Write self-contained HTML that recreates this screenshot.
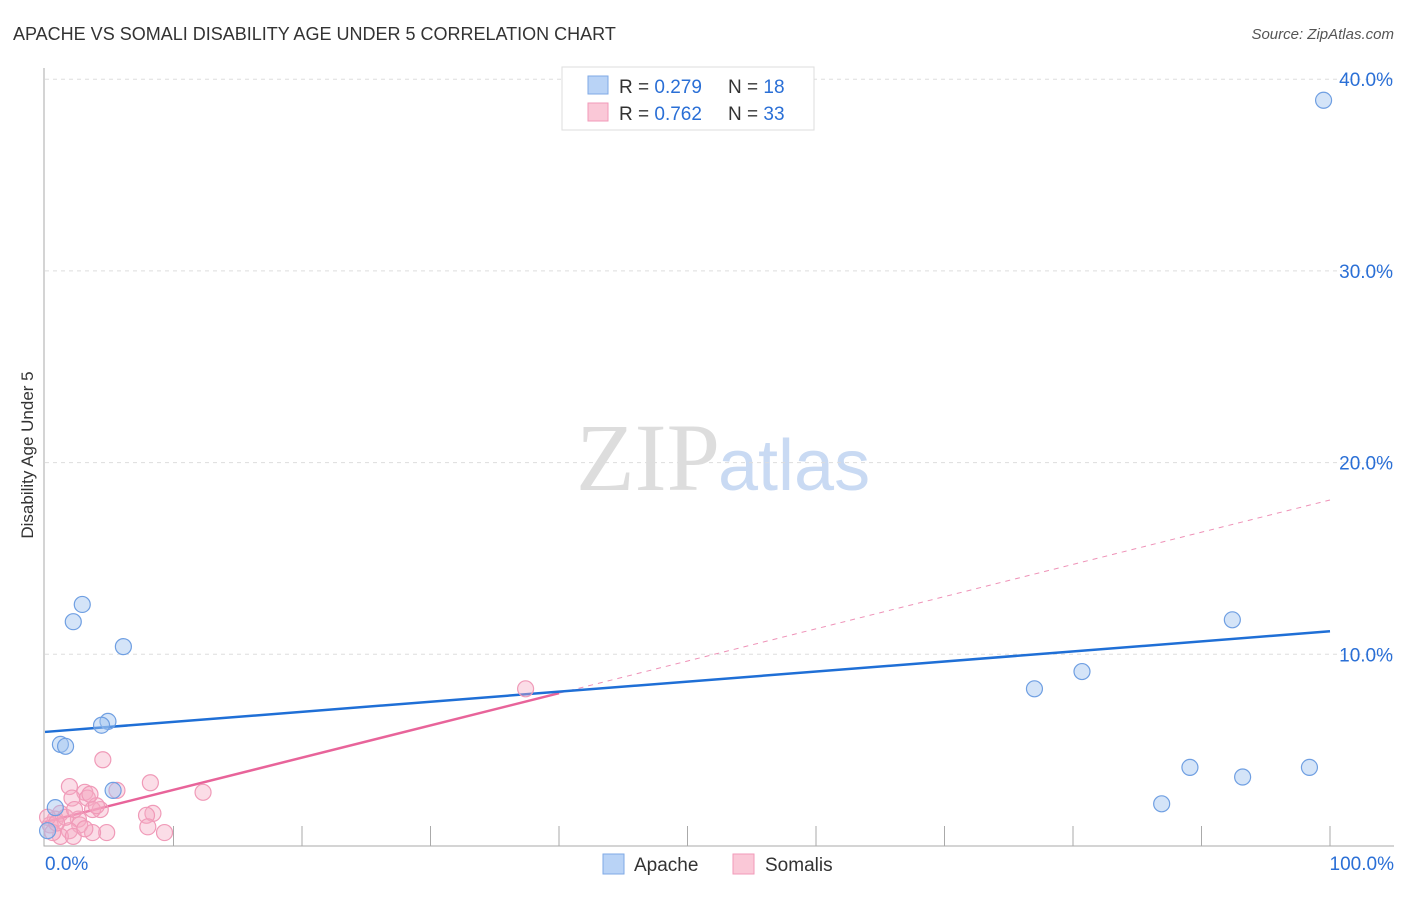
<!DOCTYPE html>
<html><head><meta charset="utf-8"><style>
body{margin:0;background:#fff;font-family:"Liberation Sans",sans-serif}
</style></head><body>
<svg id="c" width="1406" height="892" xmlns="http://www.w3.org/2000/svg" font-family="Liberation Sans, sans-serif">
<text x="13" y="40" font-size="18" fill="#333">APACHE VS SOMALI DISABILITY AGE UNDER 5 CORRELATION CHART</text>
<text x="1394" y="39" font-size="15" fill="#555" font-style="italic" text-anchor="end">Source: ZipAtlas.com</text>
<text x="720" y="490" font-size="96" fill="#ddd" text-anchor="end" font-family="Liberation Serif, serif">ZIP</text>
<text x="718" y="490" font-size="72" fill="#c9daf3">atlas</text>
<text transform="translate(33,455) rotate(-90)" font-size="17" fill="#333" text-anchor="middle">Disability Age Under 5</text>
<g id="grid"></g><g id="axes"></g><g id="lines"></g><g id="pts"></g>
<g>
<rect x="562" y="67" width="252" height="63" fill="#fff" stroke="#ddd"/>
<rect x="588" y="76" width="20" height="18" fill="#b9d3f6" stroke="#7fa9e6"/>
<rect x="588" y="103" width="20" height="18" fill="#fac8d7" stroke="#f29ab8"/>
<text x="619" y="93" font-size="19" fill="#333">R = <tspan fill="#2a6fd6">0.279</tspan></text>
<text x="728" y="93" font-size="19" fill="#333">N = <tspan fill="#2a6fd6"> 18</tspan></text>
<text x="619" y="120" font-size="19" fill="#333">R = <tspan fill="#2a6fd6">0.762</tspan></text>
<text x="728" y="120" font-size="19" fill="#333">N = <tspan fill="#2a6fd6">33</tspan></text>
</g>
<g>
<rect x="603" y="854" width="21" height="20" fill="#b9d3f6" stroke="#7fa9e6"/>
<text x="634" y="871" font-size="19" fill="#333">Apache</text>
<rect x="733" y="854" width="21" height="20" fill="#fac8d7" stroke="#f29ab8"/>
<text x="765" y="871" font-size="19" fill="#333">Somalis</text>
</g>
</svg>
<script>
const yTicks=[10,20,30,40];
const yTickLabels=["10.0%","20.0%","30.0%","40.0%"];
const xTickLabels=["0.0%","100.0%"];
const apacheX=[2.9,2.2,6.1,4.9,4.4,1.2,1.6,5.3,0.8,0.2,77.0,80.7,92.4,86.9,89.1,93.2,98.4,99.5];
const apacheY=[12.6,11.7,10.4,6.5,6.3,5.3,5.2,2.9,2.0,0.8,8.2,9.1,11.8,2.2,4.1,3.6,4.1,38.9];
const somaliX=[4.5,1.9,8.2,5.6,3.1,12.3,2.1,3.3,4.3,3.7,8.4,7.9,1.2,0.8,2.6,2.7,8.0,4.8,9.3,3.7,1.9,0.4,1.2,2.2,0.6,37.4,4.0,3.5,1.6,2.3,0.2,3.1,0.9];
const somaliY=[4.5,3.1,3.3,2.9,2.8,2.8,2.5,2.5,1.9,1.9,1.7,1.6,1.7,1.4,1.4,1.1,1.0,0.7,0.7,0.7,0.8,1.1,0.5,0.5,0.7,8.2,2.1,2.7,1.5,1.9,1.5,0.9,1.2];
const apacheTrend=[5.95,11.2];
const somaliTrend=[1.25,18.05];
const somaliSolidEnd=40;
const X=v=>45+v*12.85, Y=v=>846-v*19.17;
const NS="http://www.w3.org/2000/svg";
function mk(parent,tag,attrs){const e=document.createElementNS(NS,tag);for(const k in attrs)e.setAttribute(k,attrs[k]);document.getElementById(parent).appendChild(e);return e;}
yTicks.forEach((t,i)=>{
 const g=mk('grid','line',{x1:45,x2:1394,y1:Y(t),y2:Y(t),stroke:'#ddd','stroke-dasharray':'4,4'});
 
 
 const l=mk('grid','text',{x:1393,y:Y(t)+7,'font-size':19,fill:'#2a6fd6','text-anchor':'end'});
 l.textContent=yTickLabels[i];
 
 
});
const ax=mk('axes','path',{d:'M44,68V846H1394',fill:'none',stroke:'#aaa'});


for(let i=1;i<=10;i++){
 const t=mk('axes','line',{x1:X(i*10),x2:X(i*10),y1:826,y2:846,stroke:'#aaa'});
 
 
}
[[0,'start',45],[1,'end',1394]].forEach(([i,a,x])=>{
 const l=mk('axes','text',{x:x,y:870,'font-size':19,fill:'#2a6fd6','text-anchor':a});
 l.textContent=xTickLabels[i];
 
 
});
const sd=mk('lines','line',{x1:X(0),y1:Y(somaliTrend[0]),x2:X(100),y2:Y(somaliTrend[1]),stroke:'#e8649a','stroke-width':1,'stroke-dasharray':'5,5',opacity:0.7});


const sv=somaliTrend[0]+(somaliTrend[1]-somaliTrend[0])*somaliSolidEnd/100;
const ss=mk('lines','line',{x1:X(0),y1:Y(somaliTrend[0]),x2:X(somaliSolidEnd),y2:Y(sv),stroke:'#e8649a','stroke-width':2.5});


const at=mk('lines','line',{x1:X(0),y1:Y(apacheTrend[0]),x2:X(100),y2:Y(apacheTrend[1]),stroke:'#1f6fd6','stroke-width':2.5});


somaliX.forEach((x,i)=>{
 const c=mk('pts','circle',{cx:X(x),cy:Y(somaliY[i]),r:8,fill:'rgba(246,170,195,0.4)',stroke:'#f09ab8','stroke-width':1.2});
 
 
});
apacheX.forEach((x,i)=>{
 const c=mk('pts','circle',{cx:X(x),cy:Y(apacheY[i]),r:8,fill:'rgba(160,195,240,0.45)',stroke:'#6f9fe2','stroke-width':1.2});
 
 
});
</script>
</body></html>
